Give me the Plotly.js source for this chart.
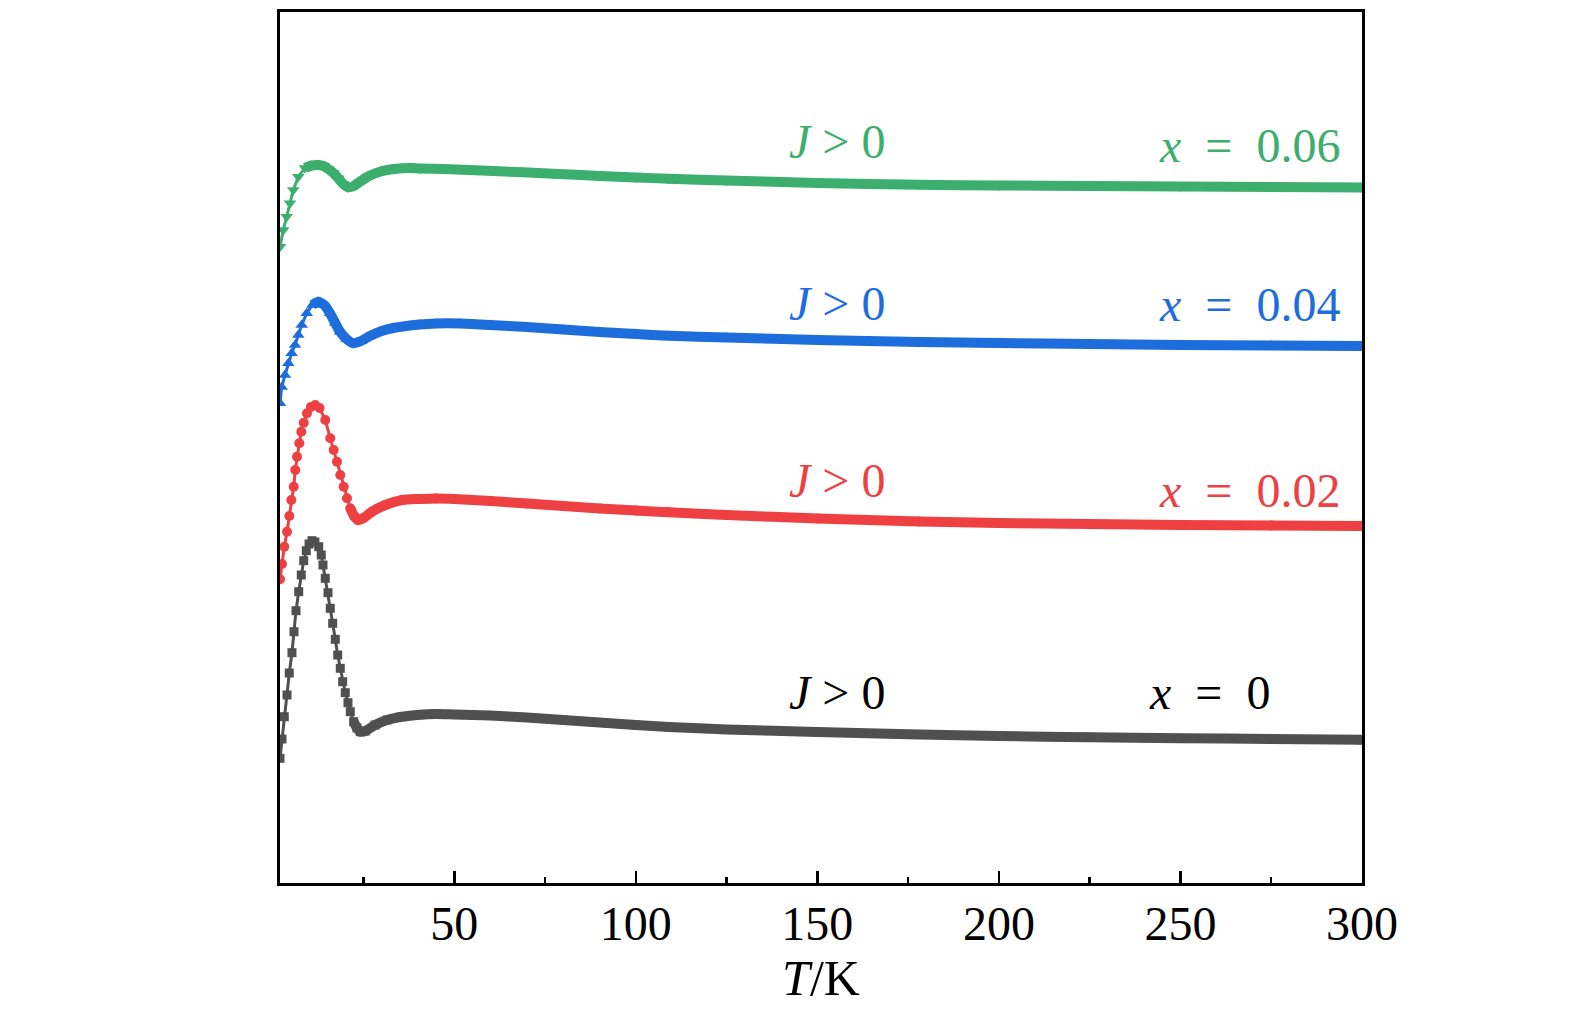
<!DOCTYPE html>
<html>
<head>
<meta charset="utf-8">
<script src="https://cdn.plot.ly/plotly-3.0.1.min.js"></script>
<style>html,body{margin:0;padding:0;background:#fff;}#chart{width:1575px;height:1021px;}</style>
</head>
<body>
<div id="chart"></div>
<script>
// Temperature (K) and signal (arbitrary units)
const T_x0 = [2.0, 2.55, 3.18, 3.93, 4.56, 5.3, 5.85, 6.41, 7.15, 7.86, 8.53, 9.24, 10.0, 10.8, 11.6, 12.66, 13.37, 13.84, 14.47, 15.22, 15.85, 16.51, 17.23, 17.89, 18.6, 19.26, 19.98, 20.72, 21.36, 22.29, 23.2, 24.1, 25.5, 28.2, 31.5, 35.6, 40.5, 45, 50, 60, 70, 80, 90, 100, 109, 125, 150, 178, 200, 225, 250, 275, 300];
const Y_x0 = [12.47, 14.4, 16.63, 18.8, 21.0, 23.03, 25.13, 27.23, 29.13, 30.8, 32.23, 33.23, 33.9, 34.23, 34.1, 33.63, 32.8, 31.8, 30.47, 29.03, 27.47, 25.97, 24.37, 22.8, 21.47, 20.13, 19.03, 18.03, 17.13, 16.13, 15.5, 15.13, 15.2, 15.8, 16.3, 16.63, 16.83, 16.9, 16.85, 16.75, 16.55, 16.3, 16.05, 15.8, 15.6, 15.35, 15.1, 14.85, 14.7, 14.58, 14.48, 14.4, 14.32];

const T_x002 = [2.0, 2.55, 3.18, 3.93, 4.56, 5.11, 5.77, 6.21, 6.68, 7.31, 7.86, 8.53, 9.43, 10.5, 11.7, 12.9, 14.47, 15.85, 16.78, 17.69, 18.6, 19.54, 20.45, 21.36, 22.4, 23.5, 25.0, 27.3, 31, 35.6, 40.5, 45, 50, 60, 70, 80, 90, 100, 109, 125, 150, 178, 200, 225, 250, 275, 300];
const Y_x002 = [30.37, 31.9, 33.63, 35.13, 36.7, 38.3, 39.63, 41.3, 42.63, 43.97, 45.13, 46.03, 46.97, 47.6, 47.8, 47.5, 46.3, 44.47, 43.3, 42.13, 40.8, 39.63, 38.47, 37.47, 36.7, 36.3, 36.5, 37.13, 37.8, 38.3, 38.4, 38.45, 38.4, 38.2, 37.95, 37.7, 37.45, 37.25, 37.07, 36.8, 36.45, 36.15, 36.0, 35.9, 35.8, 35.75, 35.7];

const T_x004 = [2.0, 2.46, 3.38, 4.3, 5.21, 6.13, 7.04, 7.97, 9.35, 10.9, 12.55, 14.2, 15.77, 17.2, 18.52, 20.3, 22.18, 24.3, 26.78, 30, 33.2, 40.5, 45, 51.6, 60, 70, 80, 90, 100, 109, 125, 150, 178, 200, 225, 250, 275, 300];
const Y_x004 = [47.97, 49.6, 50.8, 51.97, 52.97, 53.8, 54.8, 55.8, 56.97, 57.8, 58.13, 57.8, 56.97, 56.0, 55.13, 54.4, 53.97, 54.2, 54.7, 55.2, 55.5, 55.85, 55.95, 55.95, 55.8, 55.6, 55.35, 55.1, 54.9, 54.73, 54.55, 54.3, 54.1, 54.0, 53.9, 53.8, 53.75, 53.7];

const T_x006 = [2.0, 2.9, 3.84, 4.75, 5.66, 7.04, 8.88, 10.7, 12.55, 14.0, 15.3, 16.7, 18.05, 19.4, 20.8, 22.3, 24.03, 26.5, 29.5, 33.5, 37.8, 40.5, 47, 60.7, 77.25, 90, 100, 109, 125, 150, 178, 200, 225, 250, 275, 300];
const Y_x006 = [63.63, 65.3, 66.63, 67.97, 69.3, 70.63, 71.5, 71.75, 71.8, 71.7, 71.4, 71.0, 70.47, 69.9, 69.57, 69.7, 70.13, 70.7, 71.13, 71.4, 71.5, 71.45, 71.4, 71.2, 70.93, 70.7, 70.55, 70.43, 70.25, 70.0, 69.83, 69.75, 69.7, 69.65, 69.6, 69.55];

const xTicks = [50, 100, 150, 200, 250, 300];
const xTickText = ['50', '100', '150', '200', '250', '300'];

const labelJ = '<i>J</i> > 0';
const labelsX = ['<i>x</i>&nbsp;&nbsp;=&nbsp;&nbsp;0', '<i>x</i>&nbsp;&nbsp;=&nbsp;&nbsp;0.02', '<i>x</i>&nbsp;&nbsp;=&nbsp;&nbsp;0.04', '<i>x</i>&nbsp;&nbsp;=&nbsp;&nbsp;0.06'];

const series = [
  {T: T_x0, Y: Y_x0, color: '#505050', text: '#000000', symbol: 'square', size: 9, thickFrom: 22},
  {T: T_x002, Y: Y_x002, color: '#ee4042', text: '#ee4042', symbol: 'circle', size: 10, thickFrom: 21},
  {T: T_x004, Y: Y_x004, color: '#1e6ddc', text: '#1e6ddc', symbol: 'triangle-up', size: 11, thickFrom: 10},
  {T: T_x006, Y: Y_x006, color: '#3cae6e', text: '#3cae6e', symbol: 'triangle-down', size: 11, thickFrom: 8}
];

const traces = [];
series.forEach(s => {
  const idx = s.T.map((t, i) => i).filter(i => s.T[i] >= s.thickFrom);
  traces.push({
    x: idx.map(i => s.T[i]), y: idx.map(i => s.Y[i]),
    type: 'scatter', mode: 'lines',
    line: {color: s.color, width: 10, shape: 'spline', smoothing: 0.6},
    hoverinfo: 'skip', showlegend: false
  });
  traces.push({
    x: s.T, y: s.Y, type: 'scatter', mode: 'lines+markers',
    line: {color: s.color, width: 3},
    marker: {color: s.color, symbol: s.symbol, size: s.size, line: {width: 0}},
    showlegend: false
  });
});

const fontFam = 'Liberation Serif, DejaVu Serif, serif';
const jPos = [[141.6, 19.1], [141.6, 40.3], [141.6, 58.0], [141.6, 74.2]];
const xPos = [[240.7, 19.1, 'left'], [294.5, 39.3, 'right'], [294.5, 57.9, 'right'], [294.5, 73.8, 'right']];
const annotations = [];
series.forEach((s, k) => {
  annotations.push({x: jPos[k][0], y: jPos[k][1], xref: 'x', yref: 'y', text: labelJ, showarrow: false,
    xanchor: 'left', yanchor: 'middle', font: {family: fontFam, size: 48, color: s.text}});
  annotations.push({x: xPos[k][0], y: xPos[k][1], xref: 'x', yref: 'y', text: labelsX[k], showarrow: false,
    xanchor: xPos[k][2], yanchor: 'middle', font: {family: fontFam, size: 48, color: s.text}});
});

const layout = {
  width: 1575, height: 1021,
  margin: {l: 280, r: 213, t: 12, b: 138, pad: 0},
  paper_bgcolor: '#ffffff', plot_bgcolor: '#ffffff',
  font: {family: fontFam, size: 48, color: '#000'},
  showlegend: false,
  xaxis: {
    range: [2, 300], showgrid: false, zeroline: false,
    showline: true, linecolor: '#000', linewidth: 3, mirror: true,
    ticks: 'inside', ticklen: 12, tickwidth: 2.5, tickcolor: '#000',
    tickvals: xTicks, ticktext: xTickText,
    tickfont: {family: fontFam, size: 48, color: '#000'},
    ticklabelstandoff: -4,
    minor: {tickvals: [25, 75, 125, 175, 225, 275], ticks: 'inside', ticklen: 6, tickwidth: 2.5, tickcolor: '#000', showgrid: false},
    title: {text: '<i>T</i>/K', font: {family: fontFam, size: 50, color: '#000'}, standoff: 2}
  },
  yaxis: {
    range: [0, 87.1], showgrid: false, zeroline: false,
    showline: true, linecolor: '#000', linewidth: 3, mirror: true,
    ticks: '', showticklabels: false
  },
  annotations: annotations
};

Plotly.newPlot('chart', traces, layout, {displayModeBar: false, staticPlot: true});
</script>
</body>
</html>
